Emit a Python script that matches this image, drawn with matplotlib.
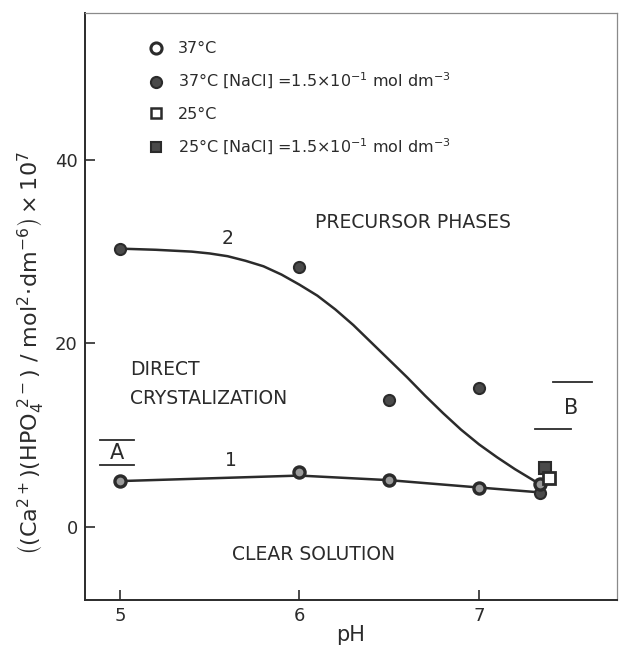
import matplotlib.pyplot as plt
from matplotlib.lines import Line2D

plt.rcParams['font.family'] = 'DejaVu Sans'
plt.rcParams['mathtext.fontset'] = 'dejavusans'

ink = '#2b2b2b'

# 37 C, no added salt (curve 1)
ph_37 = [5.0, 6.0, 6.5, 7.0, 7.34]
prod_37 = [5.0, 6.0, 5.1, 4.3, 4.7]
# 37 C, [NaCl] = 0.15 mol/dm3 (curve 2)
ph_37_nacl = [5.0, 6.0, 6.5, 7.0, 7.34]
prod_37_nacl = [30.3, 28.3, 13.8, 15.1, 3.7]
# 25 C
ph_25 = [7.39]
prod_25 = [5.3]
ph_25_nacl = [7.37]
prod_25_nacl = [6.4]

# boundary curves as drawn in the figure
curve1_ph = [5.0, 5.5, 6.0, 6.5, 7.0, 7.32]
curve1_val = [5.0, 5.3, 5.6, 5.1, 4.3, 3.8]
curve2_ph = [5.04, 5.2, 5.4, 5.5, 5.6, 5.7, 5.8, 5.9, 6.0, 6.1, 6.2, 6.3,
             6.4, 6.5, 6.6, 6.7, 6.8, 6.9, 7.0, 7.1, 7.2, 7.31]
curve2_val = [30.3, 30.2, 30.0, 29.8, 29.5, 29.0, 28.4, 27.5, 26.4, 25.2, 23.7, 22.0,
              20.1, 18.2, 16.3, 14.3, 12.4, 10.6, 9.0, 7.6, 6.3, 5.0]

fig = plt.figure(figsize=(6.19, 6.48), dpi=100)
ax = fig.add_axes([0.137, 0.074, 0.860, 0.906])

ax.plot(curve1_ph, curve1_val, color=ink, lw=1.8, zorder=2)
ax.plot(curve2_ph, curve2_val, color=ink, lw=1.8, zorder=2)

mk = dict(ls='none', ms=8, mec=ink, zorder=3)
ax.plot(ph_37_nacl, prod_37_nacl, marker='o', mfc='#4a4a4a', mew=1.5, **mk)
ax.plot(ph_37, prod_37, marker='o', mfc='#9a9a9a', mew=2.4, **mk)
ax.plot(ph_25_nacl, prod_25_nacl, marker='s', mfc='#4a4a4a', mew=1.5, **mk)
ax.plot(ph_25, prod_25, marker='s', mfc='white', mew=2.0, **mk)

# region labels
fs = 13.5
ax.text(6.63, 33.2, 'PRECURSOR PHASES', fontsize=fs, color=ink, ha='center', va='center')
ax.text(5.056, 17.2, 'DIRECT', fontsize=fs, color=ink, ha='left', va='center')
ax.text(5.056, 14.0, 'CRYSTALIZATION', fontsize=fs, color=ink, ha='left', va='center')
ax.text(6.08, -3.0, 'CLEAR SOLUTION', fontsize=fs, color=ink, ha='center', va='center')
ax.text(5.60, 30.4, '2', fontsize=fs, color=ink, ha='center', va='bottom')
ax.text(5.62, 7.2, '1', fontsize=fs, color=ink, ha='center', va='center')

ax.text(4.985, 8.1, 'A', fontsize=15, color=ink, ha='center', va='center')
ax.plot([4.89, 5.08], [9.5, 9.5], color=ink, lw=1.3)
ax.plot([4.89, 5.08], [6.8, 6.8], color=ink, lw=1.3)
ax.text(7.51, 13.0, 'B', fontsize=15, color=ink, ha='center', va='center')
ax.plot([7.41, 7.63], [15.8, 15.8], color=ink, lw=1.3)
ax.plot([7.31, 7.51], [10.7, 10.7], color=ink, lw=1.3)

handles = [
    Line2D([], [], marker='o', ls='none', ms=8, mfc='white', mec=ink, mew=2.2),
    Line2D([], [], marker='o', ls='none', ms=8, mfc='#4a4a4a', mec=ink, mew=1.5),
    Line2D([], [], marker='s', ls='none', ms=7, mfc='white', mec=ink, mew=1.8),
    Line2D([], [], marker='s', ls='none', ms=7, mfc='#4a4a4a', mec=ink, mew=1.5),
]
labels = [
    '37°C',
    r'37°C $\left[\mathrm{NaCl}\right]$ =1.5×10$^{-1}$ mol dm$^{-3}$',
    '25°C',
    r'25°C $\left[\mathrm{NaCl}\right]$ =1.5×10$^{-1}$ mol dm$^{-3}$',
]
leg = ax.legend(handles, labels, loc='upper left', bbox_to_anchor=(0.118, 0.952),
                frameon=False, fontsize=11.5, handlelength=1.0, handletextpad=0.9,
                labelspacing=0.95, borderpad=0, borderaxespad=0)
for t in leg.get_texts():
    t.set_color(ink)

ax.set_xlim(4.805, 7.769)
ax.set_ylim(-7.96, 56.0)
ax.set_xticks([5, 6, 7])
ax.set_yticks([0, 20, 40])
ax.tick_params(direction='in', length=7, width=1.2, labelsize=13, colors=ink, pad=5)

for s in ['left', 'bottom']:
    ax.spines[s].set_linewidth(1.4)
    ax.spines[s].set_color(ink)
for s in ['top', 'right']:
    ax.spines[s].set_linewidth(0.9)
    ax.spines[s].set_color('#8a8a8a')

ax.set_xlabel('pH', fontsize=15, color=ink, labelpad=0)
ax.set_ylabel(r'$\left((\mathrm{Ca}^{2+})(\mathrm{HPO}_4^{\ 2-})\ /\ \mathrm{mol}^2\!\cdot\!\mathrm{dm}^{-6}\right)\times10^7$',
              fontsize=16, color=ink)
ax.yaxis.set_label_coords(-0.072, 0.42)

fig.savefig('out.png', dpi=100)
